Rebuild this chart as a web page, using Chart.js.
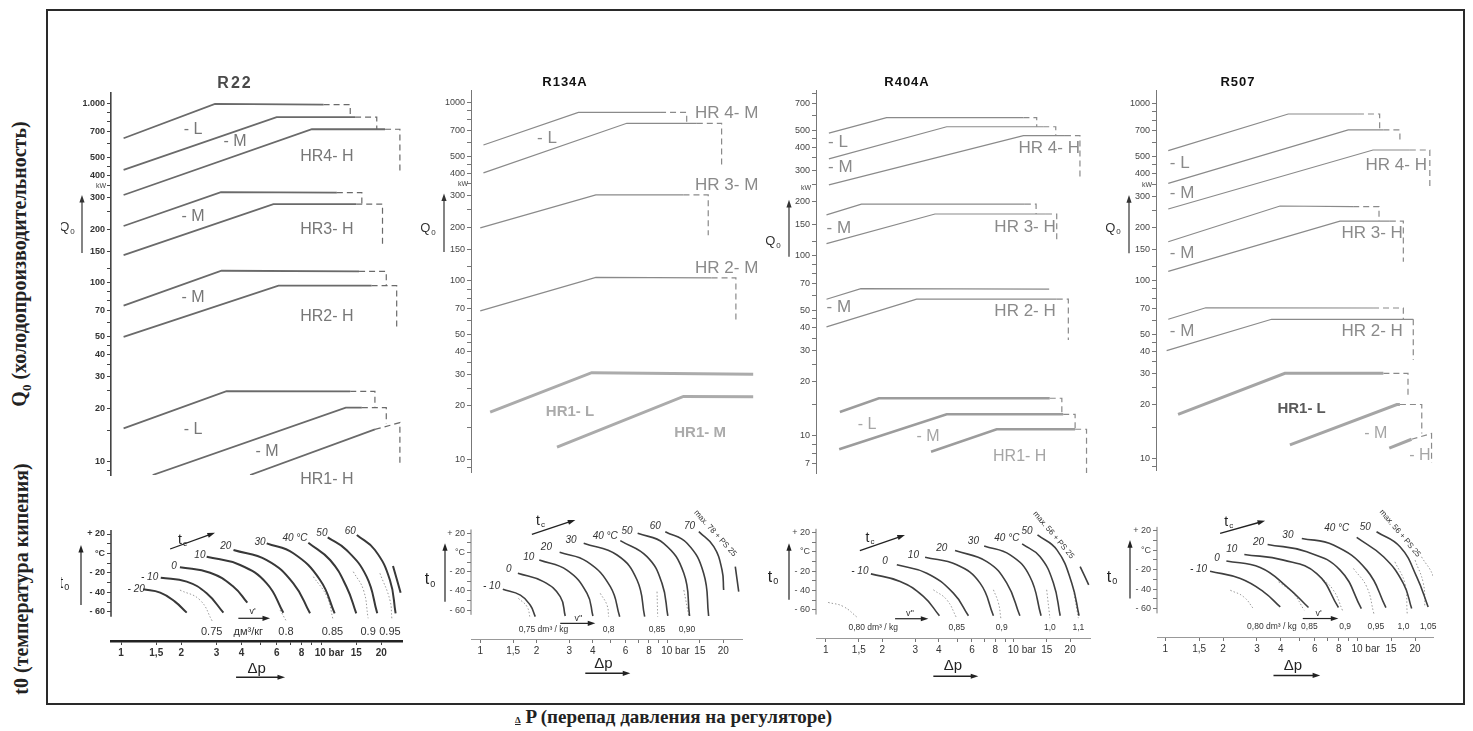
<!DOCTYPE html>
<html lang="ru">
<head>
<meta charset="utf-8">
<title>HR regulators – Q0 / t0 / Δp</title>
<script src="https://cdn.jsdelivr.net/npm/chart.js@4.4.1/dist/chart.umd.min.js"></script>
<style>
  html, body { margin: 0; padding: 0; background: #fff; }
  body { position: relative; width: 1473px; height: 731px; overflow: hidden; font-family: 'Liberation Sans', Arial, sans-serif; }
  #frame { position: absolute; left: 46px; top: 9px; width: 1415px; height: 692px; border: 2px solid #2a2a2a; }
  canvas { position: absolute; }
  .ttl { position: absolute; top: 74px; line-height: 18px; transform: translateX(-50%); font-weight: bold; white-space: nowrap; }
  .side { position: absolute; left: 21px; white-space: nowrap; font: bold 20px 'Liberation Serif', 'Times New Roman', serif; color: #222; transform: translate(-50%, -50%) rotate(-90deg); }
  #bottom { position: absolute; left: 515px; top: 706px; white-space: nowrap; font: bold 19px 'Liberation Serif', 'Times New Roman', serif; color: #222; }
</style>
</head>
<body>
<div id="frame"></div>
<div class="side" style="top:264px">Q<sub style="font-size:13px">0</sub> (холодопроизводительность)</div>
<div class="side" style="top:579px">t0 (температура кипения)</div>
<div id="bottom"><span style="font-size:9px;text-decoration:underline">Δ</span> P (перепад давления на регуляторе)</div>

<script>
// ========== DATA ==========
const refrigerants = ['R22', 'R134A', 'R404A', 'R507'];

// Q0 axis (kW, log)
const qTicks = [10, 20, 30, 40, 50, 70, 100, 150, 200, 300, 400, 500, 700, 1000];
const qTicks404 = [7, 10, 20, 30, 40, 50, 70, 100, 150, 200, 300, 400, 500, 700];
const qMinor = [8, 9, 15, 25, 35, 45, 60, 80, 90, 120, 250, 350, 450, 600, 800, 900];
// delta p axis (bar, log)
const dpTicks = [1, 1.5, 2, 3, 4, 6, 8, 10, 15, 20];
const dpLabels = ['1', '1,5', '2', '3', '4', '6', '8', '      10 bar', '15', '20'];
const dpMinor = [5, 7, 9];
// t0 axis (°C)
const t0Ticks = [20, 0, -20, -40, -60];
const t0Labels = ['+ 20', '°C', '- 20', '- 40', '- 60'];
const t0Minor = [10, -10, -30, -50];

// --- R22: [dp, Q0] ---
const r22Lines = [
  [[1.03, 643], [2.95, 1000], [10.3, 990]],
  [[1.03, 428], [6.0, 843], [14.8, 843]],
  [[1.03, 310], [9.0, 722], [20.9, 722]],
  [[1.03, 208], [3.16, 322], [12.0, 320]],
  [[1.03, 143], [5.78, 276], [15.0, 276]],
  [[1.03, 74.7], [3.18, 117], [15.5, 116]],
  [[1.03, 50], [6.13, 96.6], [17.9, 96.6]],
  [[1.03, 15.4], [3.37, 24.9], [14.0, 24.8]],
  [[1.44, 8.46], [13.3, 20.1], [16.0, 20.1]],
  [[4.42, 8.46], [18.6, 15.2]]
];
const r22Hr1 = [];
const r22Dash = [
  [[10.3, 990], [14.0, 990], [14.0, 843]],
  [[14.8, 843], [19.0, 843], [19.0, 722]],
  [[20.9, 722], [24.8, 722], [24.8, 419]],
  [[12.0, 320], [16.0, 320], [16.0, 276]],
  [[15.0, 276], [20.3, 276], [20.3, 160]],
  [[15.5, 116], [21.2, 116], [21.2, 96.6]],
  [[17.9, 96.6], [23.9, 96.6], [23.9, 55.8]],
  [[14.0, 24.8], [18.6, 24.8], [18.6, 20.1]],
  [[16.0, 20.1], [21.2, 20.1], [21.2, 16.4]],
  [[18.6, 15.2], [24.8, 16.6], [24.8, 9.6]]
];
const r22Groups = ['- L', '- M', 'HR4- H', '- M', 'HR3- H', '- M', 'HR2- H', '- L', '- M', 'HR1- H'];
// --- R22: [dp, t0] ---
const r22Tc = [
  [[1.29, -36.8], [1.57, -40.2], [1.86, -49.4], [2.13, -60.7]],
  [[1.58, -24.8], [2.13, -28.9], [2.68, -40.9], [3.25, -60.7]],
  [[1.97, -14.2], [2.79, -19.7], [3.65, -34.1], [4.28, -50.5]],
  [[2.68, -3.3], [3.94, -11.8], [5.35, -30.6], [6.48, -60.7]],
  [[3.65, 3.6], [5.35, -6.7], [7.27, -30.6], [8.81, -61.4]],
  [[5.35, 10.4], [7.27, 0.2], [9.89, -27.2], [11.7, -61.4]],
  [[8.64, 11.1], [11.1, -6.7], [13.4, -34.1], [15.0, -61.4]],
  [[10.8, 16.6], [13.4, 3.6], [16.9, -23.8], [19.1, -61.4]],
  [[15.1, 19.0], [18.6, 3.6], [22.1, -27.2], [23.6, -61.4]],
  [[22.9, -12.8], [25.0, -40.2]]
];
const r22TcNames = ['- 20', '- 10', '0', '10', '20', '30', '40 °C', '50', '60'];
const r22Vol = [
  [[1.97, -37.5], [2.48, -47.7], [2.87, -70.0]],
  [[6.24, -58.0], [6.73, -70.0]],
  [[9.15, -23.8], [10.7, -44.3], [11.5, -68.2]],
  [[14.5, -18.7], [16.3, -37.5], [17.2, -66.5]],
  [[19.7, -20.3], [22.1, -47.7], [22.6, -66.5]]
];
const r22VolNames = ['0.75', 'дм³/кг', '0.8', '0.85', '0.9', '0.95'];

// --- R134A ---
const r134Lines = [
  [[1.04, 577], [3.36, 879], [9.21, 879]],
  [[1.04, 403], [6.11, 764], [14.5, 764]],
  [[1.0, 198], [4.17, 303], [12.3, 303]],
  [[1.0, 67.9], [4.17, 104.5], [17.4, 104]]
];
const r134Hr1 = [
  [[1.13, 18.4], [3.96, 30.6], [29.1, 30.0]],
  [[2.58, 11.7], [12.3, 22.5], [29.1, 22.4]]
];
const r134Dash = [
  [[9.21, 879], [12.8, 879], [12.8, 764]],
  [[14.5, 764], [19.7, 764], [19.7, 436]],
  [[12.3, 303], [16.7, 303], [16.7, 180]],
  [[17.4, 104], [23.5, 104], [23.5, 57.7]]
];
const r134Groups = ['- L', 'HR 4- M', 'HR 3- M', 'HR 2- M', 'HR1- L', 'HR1- M'];
const r134Tc = [
  [[1.32, -38.4], [1.64, -44.4], [1.85, -54.8], [1.97, -66.9]],
  [[1.59, -21.7], [2.18, -30.4], [2.68, -46.0], [2.85, -66.2]],
  [[2.07, -7.8], [2.91, -18.3], [3.73, -42.6], [4.01, -66.2]],
  [[2.66, 0.2], [3.73, -9.5], [4.97, -35.6], [5.58, -66.9]],
  [[3.58, 9.6], [5.40, -2.6], [6.91, -28.7], [7.59, -66.9]],
  [[5.62, 12.4], [7.81, -4.3], [9.40, -32.2], [10.1, -66.2]],
  [[6.96, 20], [9.59, 9.6], [12.3, -21.7], [13.2, -66.2]],
  [[9.79, 21.7], [12.8, 9.6], [15.7, -21.7], [16.7, -66.2]],
  [[14.8, 21.7], [17.8, 6.1], [19.7, -18.3], [20.1, -39.1]],
  [[23.2, -14.7], [24.2, -40.8]]
];
const r134TcNames = ['- 10', '0', '10', '20', '30', '40 °C', '50', '60', '70'];
const r134Vol = [
  [[1.60, -47.8], [1.78, -56.5], [1.85, -68.7]],
  [[4.39, -42.6], [4.77, -54.8], [4.87, -66.9]],
  [[8.84, -40.8], [8.91, -66.9]],
  [[12.3, -39.1], [13.1, -66.9]]
];
const r134VolNames = ['0,75 dm³ / kg', '0,8', '0,85', '0,90'];

// --- R404A ---
const r404Lines = [
  [[1.04, 481], [2.11, 587], [11.3, 587]],
  [[1.04, 346], [4.41, 522], [14.4, 522]],
  [[1.04, 248], [11.3, 466], [18.8, 466]],
  [[1.01, 169], [1.55, 194], [11.5, 194]],
  [[1.01, 117], [3.82, 171], [14.9, 171]],
  [[1.01, 57.5], [1.54, 65.8], [15.5, 65.5]],
  [[1.01, 40.4], [3.05, 57.6], [17.0, 57.6]]
];
const r404Hr1 = [
  [[1.19, 13.6], [1.92, 16.2], [15.6, 16.2]],
  [[1.18, 8.44], [4.41, 13.2], [18.4, 13.2]],
  [[3.64, 8.18], [8.14, 10.9], [21.3, 10.9]]
];
const r404Dash = [
  [[11.3, 587], [13.3, 587], [13.3, 522]],
  [[14.4, 522], [16.8, 522], [16.8, 466]],
  [[18.8, 466], [22.6, 466], [22.6, 264]],
  [[11.5, 194], [13.2, 194], [13.2, 171]],
  [[14.9, 171], [17.0, 171], [17.0, 123]],
  [[17.0, 57.6], [19.6, 57.6], [19.6, 34.1]],
  [[15.6, 16.2], [18.1, 16.2], [18.1, 13.2]],
  [[18.4, 13.2], [21.3, 13.2], [21.3, 10.9]],
  [[21.3, 10.9], [24.5, 10.9], [24.5, 5.46]]
];
const r404Groups = ['- L', '- M', 'HR 4- H', '- M', 'HR 3- H', '- M', 'HR 2- H', '- L', '- M', 'HR1- H'];
const r404Tc = [
  [[1.74, -22.8], [2.49, -30.7], [3.31, -46.2], [4.03, -66.2]],
  [[2.39, -13.4], [3.45, -22.1], [4.78, -42.8], [5.75, -66.2]],
  [[3.38, -5.5], [4.98, -13.4], [6.63, -32.4], [7.81, -66.2]],
  [[4.88, 1.4], [7.20, -10.0], [9.20, -32.4], [10.8, -66.2]],
  [[6.97, 6.2], [9.58, -3.1], [12.2, -25.5], [14.0, -66.2]],
  [[11.1, 8.3], [13.8, -4.8], [16.3, -32.4], [17.7, -66.2]],
  [[13.4, 17.6], [17.0, 2.1], [20.4, -32.4], [22.3, -66.2]],
  [[22.6, -15.2], [25.1, -34.1]]
];
const r404TcNames = ['- 10', '0', '10', '20', '30', '40 °C', '50'];
const r404Vol = [
  [[1.03, -52.4], [1.24, -56.6], [1.49, -68.7]],
  [[3.74, -39.3], [4.41, -49.7], [4.98, -68.7]],
  [[7.81, -39.3], [8.31, -53.1], [8.55, -68.7]],
  [[15.0, -39.3], [15.6, -68.7]],
  [[20.8, -39.3], [22.1, -68.7]]
];
const r404VolNames = ['0,80 dm³ / kg', '0,85', '0,9', '1,0', '1,1'];

// --- R507 ---
const r507Lines = [
  [[1.04, 541], [4.38, 871], [10.1, 871]],
  [[1.04, 354], [8.99, 708], [13.7, 708]],
  [[1.04, 254], [12.1, 546], [18.8, 546]],
  [[1.04, 166], [3.97, 264], [9.54, 262]],
  [[1.04, 113], [8.14, 217], [14.8, 217]],
  [[1.04, 60.7], [1.63, 70.5], [12.1, 70.3]],
  [[1.02, 40.4], [3.59, 60.7], [19.6, 60.7]]
];
const r507Hr1 = [
  [[1.17, 17.7], [4.21, 30.1], [13.7, 30.1]],
  [[4.47, 11.9], [16.1, 20.1], [16.7, 20.1]],
  [[14.7, 11.4], [19.2, 12.8]]
];
const r507Dash = [
  [[10.1, 871], [13.1, 871], [13.1, 708]],
  [[13.7, 708], [16.7, 708], [16.7, 596]],
  [[18.8, 546], [23.9, 546], [23.9, 325]],
  [[9.54, 262], [13.0, 262], [13.0, 217]],
  [[14.8, 217], [17.4, 217], [17.4, 128]],
  [[12.1, 70.3], [17.4, 70.3], [17.4, 60.7]],
  [[19.6, 60.7], [19.6, 35.8]],
  [[13.7, 30.1], [18.4, 30.1], [18.4, 22.2]],
  [[16.7, 20.1], [21.7, 20.1], [21.7, 13.8]],
  [[19.2, 12.8], [24.4, 13.8], [24.4, 9.4]]
];
const r507Groups = ['- L', '- M', 'HR 4- H', '- M', 'HR 3- H', '- M', 'HR 2- H', 'HR1- L', '- M', '- H'];
const r507Tc = [
  [[1.71, -21.6], [2.46, -29.2], [3.25, -42.9], [3.97, -58.4]],
  [[2.08, -11.2], [3.12, -17.8], [4.30, -37.7], [5.57, -59.0]],
  [[2.58, -4.4], [4.13, -10.2], [6.15, -24.0], [7.98, -59.0]],
  [[3.41, 5.9], [5.46, -1.7], [8.14, -20.5], [10.5, -60.1]],
  [[5.14, 12.1], [7.51, 5.3], [11.2, -20.5], [14.1, -59.0]],
  [[9.93, 13.1], [13.7, -6.8], [17.4, -34.3], [19.2, -60.1]],
  [[12.6, 19.0], [16.7, 3.5], [20.4, -27.4], [23.4, -58.4]]
];
const r507TcNames = ['- 10', '0', '10', '20', '30', '40 °C', '50'];
const r507Vol = [
  [[2.18, -41.2], [2.56, -48.0], [2.90, -61.1]],
  [[3.89, -32.6], [4.65, -44.6], [5.29, -61.8]],
  [[6.28, -25.7], [7.51, -41.2], [8.40, -62.5]],
  [[9.55, -18.8], [11.2, -37.7], [12.2, -65.2]],
  [[15.7, -12.0], [17.7, -34.3], [18.2, -65.2]],
  [[20.0, -10.2], [22.1, -34.3], [22.5, -58.4]],
  [[21.6, -6.8], [24.9, -27.4], [25.4, -48.0]]
];
const r507VolNames = ['0,80 dm³ / kg', '0,85', '0,9', '0,95', '1,0', '1,05'];

// ========== LAYOUT ==========
const FONT = "'Liberation Sans', Arial, sans-serif";
const YW = 50;
Chart.defaults.font.family = FONT;

// label styles for the upper charts
const GS = {
  g22: {f: `16px ${FONT}`, c: '#777'},
  g: {f: `17px ${FONT}`, c: '#8a8a8a'},
  hb: {f: `bold 15px ${FONT}`, c: '#ababab'},
  kb: {f: `bold 15px ${FONT}`, c: '#5a5a5a'},
  lt: {f: `16px ${FONT}`, c: '#a5a5a5'}
};

const panels = [
  {
    name: 'R22', cx: 235, tfont: 'bold 16px', tcol: '#4a4a4a', tsp: '2px',
    up: {l: 111, r: 405, t: 93, b: 475, x0: 0.891, x1: 26.3, y0: 8.46, y1: 1151},
    lo: {l: 111, r: 402, t: 515, b: 641, x0: 0.891, x1: 25.4, y0: -89.8, y1: 39.5},
    qTicks: qTicks, qLabels: qTicks.map(v => v === 1000 ? '1.000' : String(v)),
    lines: r22Lines, hr1: r22Hr1, dash: r22Dash, groups: r22Groups,
    tc: r22Tc, tcNames: r22TcNames, vol: r22Vol, volNames: r22VolNames,
    bold: true, lc: '#6a6a6a', lw: 1.8, hc: '#6a6a6a', hw: 1.8, cc: '#383838', cw: 2,
    groupPos: [[2.29, 716, 'center', 'g22'], [3.72, 614, 'center', 'g22'], [10.7, 506, 'center', 'g22'],
      [2.29, 234, 'center', 'g22'], [10.7, 198, 'center', 'g22'], [2.29, 82.4, 'center', 'g22'],
      [10.7, 64.6, 'center', 'g22'], [2.29, 15.1, 'center', 'g22'], [5.37, 11.4, 'center', 'g22'],
      [10.7, 7.93, 'center', 'g22']],
    q0: [-44, 203], q0a: [-29, 147, 310], kw: [-10, 348],
    tcPos: [[1.19, -36.4], [1.39, -24.8], [1.84, -12.8], [2.48, -2.2], [3.34, 7.0], [4.95, 11.5], [7.41, 15.6], [10.1, 20.7], [14.0, 22.4]],
    volX: [2.84, 4.33, 6.68, 11.4, 17.2, 22.1], volY: -80.2, volFont: `11px ${FONT}`,
    tcLbl: [2.03, 13.8], tcArr: [1.76, 4.6, 2.95, 21.3], vArr: [3.86, 5.56, -66.5], vLbl: [4.55, -59.7, "v'"],
    dp: [4.77, -118.5], dpArr: [3.76, 6.61, -127], t0: [-47, -31.3], t0Arr: [-30, -52.8, 8.7], max: null
  },
  {
    name: 'R134A', cx: 565, tfont: 'bold 13px', tcol: '#111', tsp: '1px',
    up: {l: 470.7, r: 757, t: 90, b: 471.7, x0: 0.892, x1: 30.5, y0: 8.49, y1: 1174},
    lo: {l: 470.7, r: 741.7, t: 515, b: 639, x0: 0.892, x1: 25.2, y0: -90.2, y1: 39.1},
    qTicks: qTicks, qLabels: qTicks.map(String),
    lines: r134Lines, hr1: r134Hr1, dash: r134Dash, groups: r134Groups,
    tc: r134Tc, tcNames: r134TcNames, vol: r134Vol, volNames: r134VolNames,
    bold: false, lc: '#8a8a8a', lw: 1.2, hc: '#ababab', hw: 3, cc: '#3f3f3f', cw: 1.6,
    groupPos: [[2.28, 629, 'center', 'g'], [14.2, 871, 'left', 'g'], [14.2, 344, 'left', 'g'],
      [14.2, 118, 'left', 'g'], [3.03, 18.4, 'center', 'hb'], [15.1, 14.0, 'center', 'hb']],
    q0: [-43, 197], q0a: [-27, 145, 309], kw: [-8, 348],
    tcPos: [[1.15, -35.6], [1.42, -17.5], [1.82, -5.4], [2.26, 5.4], [3.06, 13.0], [4.67, 17.2], [6.11, 21.7], [8.66, 27.0], [13.2, 27.7]],
    volX: [2.18, 4.87, 8.84, 12.8], volY: -80.9, volFont: `8.5px ${FONT}`,
    tcLbl: [2.10, 33.1], tcArr: [1.89, 19.0, 3.23, 33.9], vArr: [2.68, 4.13, -73.9], vLbl: [3.36, -68.7, "v''"],
    dp: [4.57, -116.3], dpArr: [3.65, 6.36, -126], t0: [-41, -28.7], t0Arr: [-26, -51.3, 9.6],
    max: ['max. 78 + PS 25', 18.1, 20, 48]
  },
  {
    name: 'R404A', cx: 907, tfont: 'bold 13px', tcol: '#111', tsp: '1px',
    up: {l: 816, r: 1092, t: 90, b: 473, x0: 0.888, x1: 26.2, y0: 6.23, y1: 835},
    lo: {l: 816, r: 1090, t: 515, b: 638.3, x0: 0.888, x1: 25.5, y0: -89.3, y1: 38.3},
    qTicks: qTicks404, qLabels: qTicks404.map(String),
    lines: r404Lines, hr1: r404Hr1, dash: r404Dash, groups: r404Groups,
    tc: r404Tc, tcNames: r404TcNames, vol: r404Vol, volNames: r404VolNames,
    bold: false, lc: '#8a8a8a', lw: 1.2, hc: '#9c9c9c', hw: 2.6, cc: '#3f3f3f', cw: 1.6,
    groupPos: [[1.03, 425, 'left', 'g'], [1.03, 312, 'left', 'g'], [22.6, 398, 'right', 'g'],
      [1.01, 143, 'left', 'g'], [16.8, 145, 'right', 'g'], [1.01, 52.1, 'left', 'g'],
      [16.8, 49.5, 'right', 'g'], [1.66, 11.5, 'center', 'lt'], [3.51, 9.87, 'center', 'lt'],
      [10.8, 7.65, 'center', 'lt']],
    q0: [-43, 120], q0a: [-27, 99, 205], kw: [-10, 238],
    tcPos: [[1.52, -19.6], [2.07, -9.3], [2.93, -3.1], [4.15, 3.9], [6.11, 10.7], [9.20, 14.2], [11.8, 21.0]],
    volX: [1.79, 4.98, 8.65, 15.6, 22.1], volY: -78.3, volFont: `8.5px ${FONT}`,
    tcLbl: [1.72, 14.2], tcArr: [1.52, 1.4, 2.64, 17.6], vArr: [2.34, 3.52, -69.3], vLbl: [2.81, -63.4, "v''"],
    dp: [4.75, -118.7], dpArr: [3.74, 6.49, -129], t0: [-43, -26.2], t0Arr: [-27, -49.7, 9.0],
    max: ['max. 56 + PS 25', 16.3, 17.6, 50]
  },
  {
    name: 'R507', cx: 1238, tfont: 'bold 13px', tcol: '#111', tsp: '1px',
    up: {l: 1156, r: 1440, t: 90, b: 470, x0: 0.898, x1: 27.0, y0: 8.59, y1: 1189},
    lo: {l: 1156.7, r: 1433, t: 515, b: 636.7, x0: 0.905, x1: 24.8, y0: -89.3, y1: 36.2},
    qTicks: qTicks, qLabels: qTicks.map(String),
    lines: r507Lines, hr1: r507Hr1, dash: r507Dash, groups: r507Groups,
    tc: r507Tc, tcNames: r507TcNames, vol: r507Vol, volNames: r507VolNames,
    bold: false, lc: '#8a8a8a', lw: 1.2, hc: '#a5a5a5', hw: 3, cc: '#3f3f3f', cw: 1.6,
    groupPos: [[1.06, 459, 'left', 'g'], [1.06, 311, 'left', 'g'], [23.1, 449, 'right', 'g'],
      [1.06, 143, 'left', 'g'], [17.3, 185, 'right', 'g'], [1.06, 51.6, 'left', 'g'],
      [17.3, 51.6, 'right', 'g'], [5.14, 19.1, 'center', 'kb'], [12.5, 13.8, 'center', 'lt'],
      [21.2, 10.4, 'center', 'lt']],
    q0: [-43, 198], q0a: [-27, 143, 304], kw: [-9, 347],
    tcPos: [[1.49, -19.5], [1.86, -8.5], [2.22, 0.8], [3.06, 8.7], [4.35, 15.6], [7.82, 22.5], [11.0, 24.1]],
    volX: [3.59, 5.63, 8.64, 12.5, 17.4, 23.4], volY: -79.0, volFont: `8.5px ${FONT}`,
    tcLbl: [2.14, 29.3], tcArr: [1.93, 17.3, 3.31, 30.3], vArr: [5.20, 7.97, -70.3], vLbl: [6.28, -65.2, "v'"],
    dp: [4.62, -118.5], dpArr: [3.66, 6.41, -128.8], t0: [-45, -28.0], t0Arr: [-27, -49.7, 10.4],
    max: ['max. 56 + PS 25', 16.7, 17.3, 50]
  }
];

// ========== HELPERS ==========
function T(x, y, s, o) { return Object.assign({k: 't', x, y, s}, o); }
function TD(dx, y, s, o) { return Object.assign({k: 't', dx, y, s}, o); }
function A(x1, y1, x2, y2, o) { return Object.assign({k: 'a', x1, y1, x2, y2}, o); }
function AD(dx, y1, y2, o) { return Object.assign({k: 'a', dx, y1, y2}, o); }

function drawText(ctx, px, py, it) {
  ctx.save();
  ctx.translate(px, py);
  if (it.r) ctx.rotate(it.r * Math.PI / 180);
  const f = it.f || `10px ${FONT}`;
  ctx.font = f;
  ctx.fillStyle = it.c || '#333';
  ctx.textBaseline = 'middle';
  ctx.textAlign = 'left';
  const w1 = ctx.measureText(it.s).width;
  let w2 = 0;
  if (it.sub) { ctx.font = it.sf || `8px ${FONT}`; w2 = ctx.measureText(it.sub).width + 1; ctx.font = f; }
  const tw = w1 + w2;
  const x0 = it.a === 'left' ? 0 : it.a === 'right' ? -tw : -tw / 2;
  ctx.fillText(it.s, x0, 0);
  if (it.sub) { ctx.font = it.sf || `8px ${FONT}`; ctx.fillText(it.sub, x0 + w1 + 1, 4); }
  ctx.restore();
}

function drawArrow(ctx, x1, y1, x2, y2, c, w) {
  const ang = Math.atan2(y2 - y1, x2 - x1), hl = 8;
  ctx.save();
  ctx.strokeStyle = c; ctx.fillStyle = c; ctx.lineWidth = w;
  ctx.beginPath();
  ctx.moveTo(x1, y1);
  ctx.lineTo(x2 - Math.cos(ang) * hl * 0.7, y2 - Math.sin(ang) * hl * 0.7);
  ctx.stroke();
  ctx.beginPath();
  ctx.moveTo(x2, y2);
  ctx.lineTo(x2 - hl * Math.cos(ang - 0.33), y2 - hl * Math.sin(ang - 0.33));
  ctx.lineTo(x2 - hl * Math.cos(ang + 0.33), y2 - hl * Math.sin(ang + 0.33));
  ctx.closePath();
  ctx.fill();
  ctx.restore();
}

function notesPlugin(items, axisLine) {
  return {
    id: 'notes',
    afterDraw(chart) {
      const {ctx, chartArea: ca} = chart;
      const xs = chart.scales.x, ys = chart.scales.y;
      const X = (it, v) => it.dx !== undefined ? ca.left + it.dx : xs.getPixelForValue(v);
      ctx.save();
      if (axisLine) {
        ctx.strokeStyle = axisLine.c; ctx.lineWidth = axisLine.w;
        ctx.beginPath();
        ctx.moveTo(ca.left, ys.getPixelForValue(axisLine.from));
        ctx.lineTo(ca.left, ys.getPixelForValue(axisLine.to));
        ctx.stroke();
      }
      items.forEach(it => {
        if (it.k === 't') drawText(ctx, X(it, it.x), ys.getPixelForValue(it.y), it);
        else drawArrow(ctx, X(it, it.x1), ys.getPixelForValue(it.y1), X(it, it.x2), ys.getPixelForValue(it.y2), it.c || '#222', it.w || 1.3);
      });
      ctx.restore();
    }
  };
}

function tickSet(values, labels, minor) {
  const all = values.concat(minor);
  return {
    build: s => { s.ticks = all.filter(v => v >= s.min && v <= s.max).sort((a, b) => a - b).map(v => ({value: v})); },
    label: v => { const i = values.indexOf(v); return i < 0 ? '' : labels[i]; }
  };
}

function sets(list, style) {
  return list.map(l => Object.assign({
    type: 'line', data: l.map(p => ({x: p[0], y: p[1]})),
    pointRadius: 0, pointHoverRadius: 0, fill: false, tension: 0
  }, style));
}

function makeChart(area, o) {
  const left = area.l - YW, top = area.t - o.pt;
  const w = Math.round(area.r - left + o.pr), h = Math.round(area.b - top + o.pb + o.xh);
  const cv = document.createElement('canvas');
  cv.width = w; cv.height = h;
  cv.style.left = left + 'px'; cv.style.top = top + 'px';
  cv.style.width = w + 'px'; cv.style.height = h + 'px';
  document.body.appendChild(cv);
  new Chart(cv, {
    type: 'line',
    data: {datasets: o.datasets},
    options: {
      responsive: false, animation: false, events: [],
      layout: {padding: {left: 0, top: o.pt, right: o.pr, bottom: o.pb}},
      plugins: {legend: {display: false}, tooltip: {enabled: false}},
      scales: {x: o.x, y: o.y}
    },
    plugins: [notesPlugin(o.notes, o.axisLine)]
  });
}

function axisStyle(p) {
  return p.bold
    ? {fs: 9, fw: 'bold', tc: '#333', ac: '#444', aw: 1.6}
    : {fs: 9, fw: 'normal', tc: '#444', ac: '#777', aw: 1};
}

// ========== BUILD ==========
function buildPanel(p) {
  const st = axisStyle(p);
  const qt = tickSet(p.qTicks, p.qLabels, qMinor);

  // ---- upper: Q0 vs dp ----
  const upNotes = p.groups.map((s, i) => {
    const g = p.groupPos[i];
    return T(g[0], g[1], s, Object.assign({a: g[2]}, GS[g[3]]));
  });
  upNotes.push(TD(p.q0[0], p.q0[1], 'Q', {sub: '0', f: `13px ${FONT}`, sf: `8px ${FONT}`, c: '#333'}));
  upNotes.push(AD(p.q0a[0], p.q0a[1], p.q0a[2], {w: 1.2, c: '#333'}));
  upNotes.push(TD(p.kw[0], p.kw[1], 'kW', {f: `7px ${FONT}`, c: '#444'}));

  makeChart(p.up, {
    pt: 12, pr: 12, pb: 18, xh: 0,
    x: {type: 'logarithmic', min: p.up.x0, max: p.up.x1, display: false},
    y: {
      type: 'logarithmic', min: p.up.y0, max: p.up.y1,
      afterFit: s => { s.width = YW; },
      afterBuildTicks: qt.build,
      ticks: {autoSkip: false, callback: qt.label, font: {size: st.fs, weight: st.fw}, color: st.tc, padding: 2},
      grid: {drawOnChartArea: false, drawTicks: true, tickLength: 4, tickColor: st.ac},
      border: {display: true, color: st.ac, width: st.aw}
    },
    datasets: [
      ...sets(p.lines, {borderColor: p.lc, borderWidth: p.lw}),
      ...sets(p.hr1, {borderColor: p.hc, borderWidth: p.hw}),
      ...sets(p.dash, {borderColor: p.lc, borderWidth: 1.2, borderDash: [6, 4]})
    ],
    notes: upNotes
  });

  // ---- lower: t0 vs dp ----
  const xt = tickSet(dpTicks, dpLabels, dpMinor);
  const yt = tickSet(t0Ticks, t0Labels, t0Minor);
  const loNotes = [];
  p.tcNames.forEach((s, i) => loNotes.push(T(p.tcPos[i][0], p.tcPos[i][1], s, {f: `italic 10px ${FONT}`, c: '#333'})));
  p.volNames.forEach((s, i) => loNotes.push(T(p.volX[i], p.volY, s, {f: p.volFont, c: '#333'})));
  loNotes.push(T(p.tcLbl[0], p.tcLbl[1], 't', {sub: 'c', f: `14px ${FONT}`, sf: `8px ${FONT}`, c: '#222'}));
  loNotes.push(A(p.tcArr[0], p.tcArr[1], p.tcArr[2], p.tcArr[3], {w: 1.3}));
  loNotes.push(A(p.vArr[0], p.vArr[2], p.vArr[1], p.vArr[2], {w: 1.2}));
  loNotes.push(T(p.vLbl[0], p.vLbl[1], p.vLbl[2], {f: `9px ${FONT}`, c: '#333'}));
  loNotes.push(T(p.dp[0], p.dp[1], 'Δp', {f: `15px ${FONT}`, c: '#222'}));
  loNotes.push(A(p.dpArr[0], p.dpArr[2], p.dpArr[1], p.dpArr[2], {w: 1.5}));
  loNotes.push(TD(p.t0[0], p.t0[1], 't', {sub: '0', f: `16px ${FONT}`, sf: `9px ${FONT}`, c: '#222'}));
  loNotes.push(AD(p.t0Arr[0], p.t0Arr[1], p.t0Arr[2], {w: 1.2}));
  if (p.max) loNotes.push(T(p.max[1], p.max[2], p.max[0], {f: `8px ${FONT}`, c: '#333', r: p.max[3]}));

  makeChart(p.lo, {
    pt: 25, pr: 12, pb: 0, xh: 52,
    x: {
      type: 'logarithmic', min: p.lo.x0, max: p.lo.x1, position: 'bottom',
      afterFit: s => { s.height = 52; },
      afterBuildTicks: xt.build,
      ticks: {autoSkip: false, maxRotation: 0, callback: xt.label, font: {size: 10, weight: st.fw}, color: '#333', padding: 2},
      grid: {drawOnChartArea: false, drawTicks: true, tickLength: 4, tickColor: st.ac},
      border: {display: true, color: p.bold ? '#222' : '#999', width: p.bold ? 2.5 : 1}
    },
    y: {
      type: 'linear', min: p.lo.y0, max: p.lo.y1,
      afterFit: s => { s.width = YW; },
      afterBuildTicks: yt.build,
      ticks: {autoSkip: false, callback: yt.label, font: {size: st.fs, weight: st.fw}, color: st.tc, padding: 2},
      grid: {drawOnChartArea: false, drawTicks: true, tickLength: 4, tickColor: st.ac},
      border: {display: false}
    },
    datasets: [
      ...sets(p.tc, {borderColor: p.cc, borderWidth: p.cw, tension: 0.45}),
      ...sets(p.vol, {borderColor: '#9a9a9a', borderWidth: 1, borderDash: [1.5, 2], tension: 0.45})
    ],
    notes: loNotes,
    axisLine: {from: 24, to: -65, c: st.ac, w: st.aw}
  });

  // ---- title ----
  const t = document.createElement('div');
  t.className = 'ttl';
  t.textContent = p.name;
  t.style.left = p.cx + 'px';
  t.style.font = `${p.tfont} ${FONT}`;
  t.style.color = p.tcol;
  t.style.letterSpacing = p.tsp;
  document.body.appendChild(t);
}

panels.forEach(buildPanel);
</script>
</body>
</html>
